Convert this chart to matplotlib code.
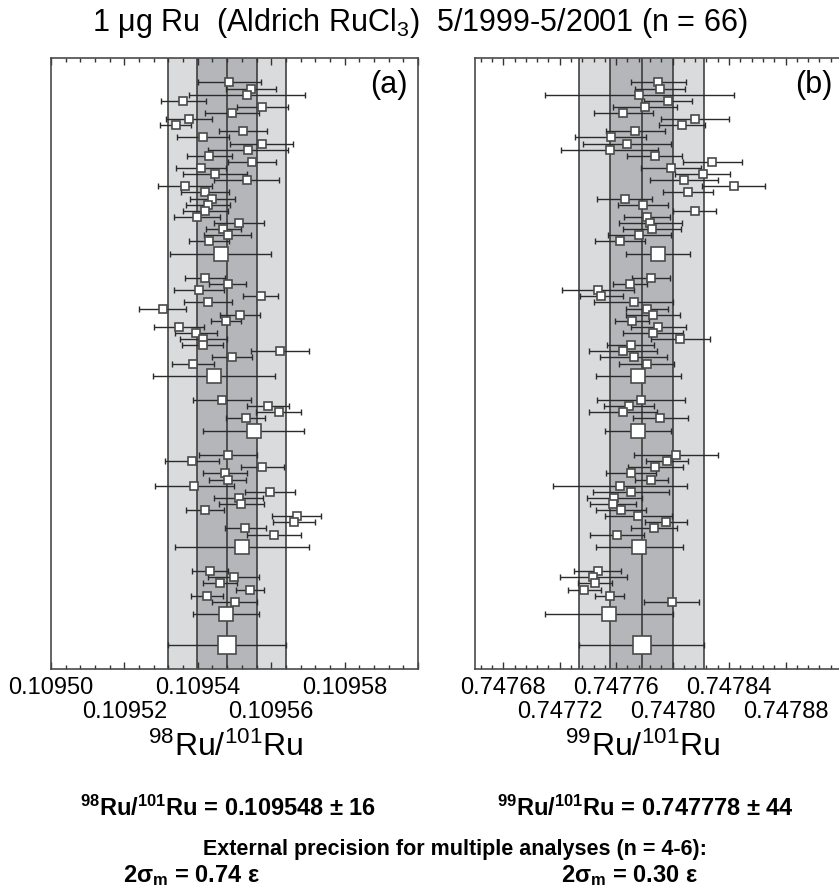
import numpy as np
import matplotlib
matplotlib.use('Agg')
import matplotlib.pyplot as plt
from matplotlib import font_manager

# --- 98Ru/101Ru, individual runs grouped by session (top to bottom) ---
ru98_runs = [
    [0.1095486, 0.1095544, 0.1095534, 0.1095361, 0.1095576, 0.1095493, 0.1095376,
     0.1095340, 0.1095524, 0.1095414, 0.1095574, 0.1095537, 0.1095431, 0.1095548,
     0.1095409, 0.1095447, 0.1095533, 0.1095365, 0.1095419, 0.1095440, 0.1095428,
     0.1095420, 0.1095398, 0.1095512, 0.1095470, 0.1095481, 0.1095430],
    [0.1095419, 0.1095481, 0.1095403, 0.1095571, 0.1095428, 0.1095304, 0.1095515,
     0.1095477, 0.1095350, 0.1095396, 0.1095415, 0.1095413, 0.1095623, 0.1095493,
     0.1095387],
    [0.1095467, 0.1095591, 0.1095620, 0.1095530],
    [0.1095483, 0.1095384, 0.1095576, 0.1095474, 0.1095481, 0.1095391, 0.1095597,
     0.1095511, 0.1095519, 0.1095419, 0.1095669, 0.1095661, 0.1095529, 0.1095607],
    [0.1095433, 0.1095498, 0.1095461, 0.1095542, 0.1095425, 0.1095501],
]
# 2 s.e. of each run, in units of 1e-6
ru98_errs = [
    [8.6, 6.8, 15.9, 6.0, 6.9, 7.4, 6.2, 4.2, 6.5, 7.2, 8.6, 10.9, 6.1, 6.6,
     6.8, 8.8, 8.8, 7.4, 6.5, 6.2, 5.9, 6.1, 6.2, 6.8, 4.9, 6.3, 5.5],
    [5.4, 5.1, 6.9, 4.8, 6.5, 6.4, 5.4, 4.2, 6.8, 5.7, 6.4, 5.6, 7.9, 5.4, 5.7],
    [7.9, 5.7, 6.1, 5.2],
    [7.9, 7.4, 5.9, 5.9, 5.0, 10.7, 6.8, 6.8, 6.1, 5.2, 6.8, 5.7, 5.6, 7.4],
    [5.0, 6.9, 4.6, 3.9, 4.4, 6.1],
]
ru98_sess = [0.1095462, 0.1095445, 0.1095552, 0.1095521, 0.1095477]
ru98_sess_err = [13.8, 16.6, 13.8, 18.3, 9.0]
ru98_mean, ru98_2sd, ru98_2sm_eps = 0.109548, 16, 0.74

# --- 99Ru/101Ru ---
ru99_runs = [
    [0.7477898, 0.7477914, 0.7477763, 0.7477966, 0.7477806, 0.7477650, 0.7478158,
     0.7478068, 0.7477737, 0.7477562, 0.7477678, 0.7477553, 0.7477872, 0.7478281,
     0.7477988, 0.7478212, 0.7478082, 0.7478432, 0.7478106, 0.7477661, 0.7477791,
     0.7478156, 0.7477820, 0.7477841, 0.7477855, 0.7477765, 0.7477628],
    [0.7477846, 0.7477699, 0.7477470, 0.7477496, 0.7477725, 0.7477820, 0.7477860,
     0.7477713, 0.7477900, 0.7477862, 0.7478054, 0.7477702, 0.7477650, 0.7477725,
     0.7477817],
    [0.7477777, 0.7477692, 0.7477647, 0.7477912],
    [0.7478026, 0.7477962, 0.7477877, 0.7477706, 0.7477848, 0.7477628, 0.7477706,
     0.7477588, 0.7477579, 0.7477631, 0.7477756, 0.7477955, 0.7477867, 0.7477607],
    [0.7477469, 0.7477438, 0.7477452, 0.7477374, 0.7477554, 0.7477993],
]
ru99_errs = [
    [19.4, 17.7, 67.0, 16.8, 22.5, 20.8, 24.1, 16.3, 20.7, 25.2, 31.2, 34.3, 19.5,
     21.0, 21.0, 19.3, 23.9, 22.2, 17.7, 19.5, 17.8, 15.0, 16.4, 22.2, 20.7, 22.6, 17.8],
    [13.4, 11.8, 25.3, 14.9, 28.1, 14.8, 19.3, 11.9, 19.6, 21.0, 20.8, 16.4, 23.9,
     23.8, 19.4],
    [31.3, 17.8, 24.0, 19.4],
    [29.8, 14.9, 19.4, 17.7, 11.8, 47.6, 26.8, 19.4, 16.4, 17.7, 23.8, 14.9, 16.4, 19.1],
    [16.5, 23.8, 11.9, 11.7, 10.3, 19.4],
]
ru99_sess = [0.7477898, 0.7477756, 0.7477758, 0.7477765, 0.7477547]
ru99_sess_err = [22.8, 30.0, 23.4, 30.6, 45.3]
ru99_mean, ru99_2sd, ru99_2sm_eps = 0.747778, 44, 0.30

names = {f.name for f in font_manager.fontManager.ttflist}
narrow = 'Liberation Sans Narrow' if 'Liberation Sans Narrow' in names else 'Liberation Sans'

plt.rcParams['font.family'] = ['Liberation Sans', 'DejaVu Sans']
plt.rcParams['mathtext.fontset'] = 'custom'
plt.rcParams['mathtext.rm'] = 'Liberation Sans'
plt.rcParams['mathtext.it'] = 'Liberation Sans:italic'
plt.rcParams['mathtext.bf'] = narrow + ':bold'

EDGE = '#4a4a4a'


def draw_panel(ax, runs, errs, sess, sess_err, mean, two_sd, two_sm,
               xlim, major, minor, tag, xlabel, label_x):
    sd = two_sd * 1e-6
    sm = two_sm * 1e-6
    ax.axvspan(mean - sd, mean + sd, color='#dadbdd', lw=0, zorder=0)
    ax.axvspan(mean - sm, mean + sm, color='#b5b6b9', lw=0, zorder=0)
    for x in (mean - sd, mean - sm, mean, mean + sm, mean + sd):
        ax.axvline(x, color='#333333', lw=1.1, zorder=1)

    eb = dict(fmt='none', ecolor='#2b2b2b', elinewidth=1.0, capsize=2.2,
              capthick=1.0, zorder=2)
    mk = dict(ls='none', marker='s', mfc='white', mec=EDGE, mew=1.2, zorder=3)
    start = 0
    for vals, ee, m, me in zip(runs, errs, sess, sess_err):
        y = start + np.arange(len(vals))
        ax.errorbar(vals, y, xerr=np.array(ee) * 1e-6, **eb)
        ax.plot(vals, y, ms=6.3, **mk)
        ym = start + len(vals) + 1
        ax.errorbar([m], [ym], xerr=[me * 1e-6], **eb)
        ax.plot([m], [ym], ms=9.5, **mk)
        start = ym + 4
    yg = ym + 5
    ax.errorbar([mean], [yg], xerr=[sd], **eb)
    ax.plot([mean], [yg], ms=12.5, **mk)

    ax.set_ylim(96, -4)
    ax.set_yticks([])
    ax.set_xlim(*xlim)
    ax.set_xticks(major, labels=[f'{t:.5f}' if i % 2 == 0 else ''
                                 for i, t in enumerate(major)])
    ax.set_xticks(minor, minor=True)
    ax.tick_params(axis='x', which='both', direction='in', top=True,
                   color='#333333', labelsize=17, pad=6)
    ax.tick_params(axis='x', which='major', length=5, width=1)
    ax.tick_params(axis='x', which='minor', length=3, width=1)
    for s in ax.spines.values():
        s.set_color(EDGE)
        s.set_linewidth(1.2)

    # second row of tick labels (staggered)
    lower = [t for t in major[1::2] if t < xlim[1] - 1e-9]
    sec = ax.secondary_xaxis('bottom')
    sec.set_ticks(lower, labels=[f'{t:.5f}' for t in lower])
    sec.tick_params(length=0, pad=23, labelsize=17)
    sec.spines['bottom'].set_visible(False)

    ax.set_xlabel(xlabel, fontsize=23)
    ax.xaxis.set_label_coords(label_x, -0.128)
    ax.xaxis.label.set_va('center')
    ax.text(0.973, 0.98, tag, transform=ax.transAxes, ha='right', va='top',
            fontsize=22)


fig = plt.figure(figsize=(8.39, 8.93), dpi=100)
ax1 = fig.add_axes([51 / 839, 224 / 893, 367 / 839, 611 / 893])
ax2 = fig.add_axes([475 / 839, 224 / 893, 367 / 839, 611 / 893])

draw_panel(ax1, ru98_runs, ru98_errs, ru98_sess, ru98_sess_err,
           ru98_mean, ru98_2sd, ru98_mean * ru98_2sm_eps * 1e2,
           (0.10950, 0.10960),
           0.10950 + 0.00002 * np.arange(6),
           0.10950 + 0.000004 * np.arange(26),
           '(a)', r'$^{98}$Ru/$^{101}$Ru', 0.477)
draw_panel(ax2, ru99_runs, ru99_errs, ru99_sess, ru99_sess_err,
           ru99_mean, ru99_2sd, ru99_mean * ru99_2sm_eps * 1e2,
           (0.74766, 0.74792),
           0.74768 + 0.00004 * np.arange(6),
           0.747664 + 0.000008 * np.arange(33),
           '(b)', r'$^{99}$Ru/$^{101}$Ru', 0.458)

fig.text(0.5, 1 - 23 / 893, '1 μg Ru  (Aldrich RuCl$_3$)  5/1999-5/2001 (n = 66)',
         ha='center', va='center', fontsize=22)

bold = dict(ha='center', va='center', fontweight='bold',
            family=[narrow, 'DejaVu Sans'])
fig.text(228 / 839, 1 - 808 / 893,
         r'$^{\mathbf{98}}$Ru/$^{\mathbf{101}}$Ru = ' + f'{ru98_mean:.6f} ± {ru98_2sd}',
         fontsize=17, **bold)
fig.text(645 / 839, 1 - 808 / 893,
         r'$^{\mathbf{99}}$Ru/$^{\mathbf{101}}$Ru = ' + f'{ru99_mean:.6f} ± {ru99_2sd}',
         fontsize=17, **bold)
fig.text(455 / 839, 1 - 849 / 893,
         'External precision for multiple analyses (n = 4-6):', fontsize=15.5, **bold)
fig.text(192 / 839, 1 - 876 / 893,
         r'2σ$_{\mathbf{m}}$ = ' + f'{ru98_2sm_eps:.2f} ε', fontsize=17, **bold)
fig.text(630 / 839, 1 - 876 / 893,
         r'2σ$_{\mathbf{m}}$ = ' + f'{ru99_2sm_eps:.2f} ε', fontsize=17, **bold)

fig.savefig('out.png', dpi=100)
